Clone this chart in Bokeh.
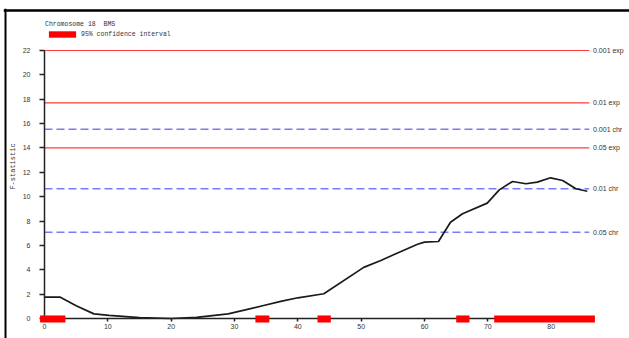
from math import pi

from bokeh.core.properties import value
from bokeh.embed import file_html
from bokeh.models import (ColumnDataSource, FixedTicker, Label, Legend,
                          LegendItem, LinearAxis, Range1d, Span)
from bokeh.plotting import figure
from bokeh.resources import INLINE

# F-statistic scan along chromosome 18 (position in cM)
position = [0, 2.5, 5.0, 7.8, 10.2, 15.0, 20.0, 24.0, 29.0, 34.6, 37.3, 40.0,
            44.1, 50.4, 53.1, 55.2, 58.9, 60.0, 62.2, 64.1, 66.0, 69.9, 71.8,
            73.9, 76.0, 77.8, 79.9, 81.8, 83.9, 85.7]
f_stat = [1.75, 1.75, 1.05, 0.38, 0.25, 0.07, 0.0, 0.1, 0.38, 1.07, 1.4, 1.7,
          2.03, 4.2, 4.76, 5.25, 6.1, 6.27, 6.32, 7.9, 8.6, 9.47, 10.56,
          11.25, 11.06, 11.2, 11.55, 11.33, 10.65, 10.45]

# 95% confidence interval segments (cM)
ci_start = [-0.7, 33.3, 43.1, 65.0, 71.0]
ci_end = [3.3, 35.5, 45.2, 67.1, 86.9]

# significance thresholds (experiment-wise / chromosome-wise)
exp_labels = ["0.001 exp", "0.01 exp", "0.05 exp"]
exp_values = [22.0, 17.7, 14.0]
chr_labels = ["0.001 chr", "0.01 chr", "0.05 chr"]
chr_values = [15.54, 10.65, 7.08]

x_ticks = [0, 10, 20, 30, 40, 50, 60, 70, 80]
y_ticks = [0, 2, 4, 6, 8, 10, 12, 14, 16, 18, 20, 22]

chrom_length = 86.0

SANS = "Liberation Sans"
MONO = "Liberation Mono"
TEXT = "#333333"

p = figure(width=629, height=338,
           x_range=Range1d(-6.473, 92.36), y_range=Range1d(-1.642, 25.45),
           x_axis_type=None, y_axis_type=None,
           min_border_left=3, min_border_top=8,
           min_border_right=0, min_border_bottom=0,
           outline_line_color=None, background_fill_color="white",
           border_fill_color="white",
           output_backend="svg", toolbar_location=None)

# axes crossing at the origin
yaxis = LinearAxis(fixed_location=0, bounds=(0, 22),
                   ticker=FixedTicker(ticks=y_ticks),
                   major_tick_out=5, major_tick_in=0,
                   minor_tick_out=0, minor_tick_in=0,
                   major_label_standoff=9,
                   axis_line_color="#222222", axis_line_width=1.5,
                   major_tick_line_color="#222222", major_tick_line_width=1.5,
                   major_label_text_font=SANS,
                   major_label_text_font_size="7px",
                   major_label_text_color=TEXT)
p.add_layout(yaxis, "left")

xaxis = LinearAxis(fixed_location=0, bounds=(0, 86.5),
                   ticker=FixedTicker(ticks=x_ticks),
                   major_tick_out=3, major_tick_in=0,
                   minor_tick_out=0, minor_tick_in=0,
                   major_label_standoff=3,
                   axis_line_color="#222222", axis_line_width=1.5,
                   major_tick_line_color="#222222", major_tick_line_width=1.5,
                   major_label_text_font=SANS,
                   major_label_text_font_size="7px",
                   major_label_text_color=TEXT)
p.add_layout(xaxis, "below")

# threshold lines
exp_src = ColumnDataSource(dict(y=exp_values, label=exp_labels))
chr_src = ColumnDataSource(dict(y=chr_values, label=chr_labels))
p.segment(x0=0, x1=chrom_length, y0="y", y1="y", source=exp_src,
          line_color="#ff3a3a", line_width=1.2)
p.segment(x0=0, x1=chrom_length, y0="y", y1="y", source=chr_src,
          line_color="#7a7aff", line_width=1.5, line_dash="8 4")
for src in (exp_src, chr_src):
    p.text(x=chrom_length + 0.6, y="y", text="label", source=src,
           text_baseline="middle", text_align="left",
           text_font=value(SANS), text_font_size="7px", text_color=TEXT)

# F-statistic profile
p.line(position, f_stat, line_color="#1a1a1a", line_width=1.7)

# confidence interval bars on the baseline
ci = p.quad(left=ci_start, right=ci_end, bottom=-0.33, top=0.25,
            fill_color="#ff0000", line_color=None, level="overlay")

# y-axis title
p.add_layout(Label(x=-5.05, y=12.48, text="F-statistic", angle=pi / 2,
                   text_align="center", text_baseline="middle",
                   text_font=MONO, text_font_size="7px", text_color=TEXT))

# legend with chart title
legend = Legend(items=[LegendItem(label="95% confidence interval",
                                  renderers=[ci])],
                title="Chromosome 18  BMS", location=(42, 300),
                title_text_font=MONO, title_text_font_size="6.5px",
                title_text_font_style="normal", title_text_color=TEXT,
                title_standoff=2,
                label_text_font=MONO, label_text_font_size="6.5px",
                label_text_color=TEXT,
                glyph_width=34, glyph_height=8, label_height=8,
                label_standoff=2, padding=0, spacing=0, margin=0,
                border_line_color=None, background_fill_alpha=0)
p.add_layout(legend)

# frame rules along the top and left edges
p.add_layout(Span(location=25.29, dimension="width",
                  line_color="black", line_width=2.5))
p.add_layout(Span(location=-6.157, dimension="height",
                  line_color="black", line_width=2))

open("out.html", "w").write(file_html(p, INLINE))
